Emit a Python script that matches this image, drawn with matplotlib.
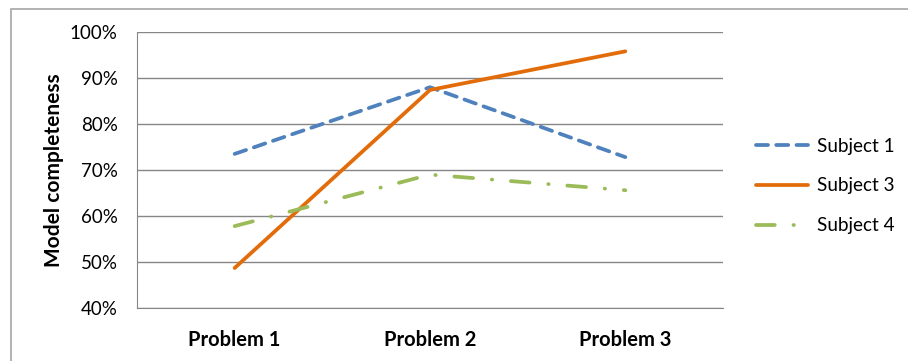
import matplotlib
matplotlib.use("Agg")
import matplotlib.pyplot as plt
from matplotlib.patches import Rectangle
from matplotlib.ticker import FuncFormatter, MultipleLocator

plt.rcParams["font.family"] = ["Lato", "DejaVu Sans"]
plt.rcParams["font.size"] = 11

# data
problems = ["Problem 1", "Problem 2", "Problem 3"]
subject1 = [0.735, 0.880, 0.728]
subject3 = [0.487, 0.874, 0.958]
subject4 = [0.578, 0.690, 0.656]

fig = plt.figure(figsize=(9.08, 3.61), dpi=100)

# outer chart border (Excel style)
fig.patches.append(Rectangle((11/908, -0.1), 1.2, 0.975 + 0.1, transform=fig.transFigure,
                             fill=False, edgecolor="#a6a6a6", linewidth=1.2))

ax = fig.add_axes([137/908, 53/361, 586/908, 276/361])
x = range(len(problems))

lw = 2.7
ax.plot(x, subject1, color="#4f81bd", lw=lw, linestyle=(0, (3.2, 2.2)),
        dash_capstyle="round", label="Subject 1")
ax.plot(x, subject3, color="#e36c0a", lw=lw, solid_capstyle="round", label="Subject 3")
ax.plot(x, subject4, color="#9bbb59", lw=lw, linestyle=(0, (5, 5, 0.1, 5)),
        dash_capstyle="round", label="Subject 4")

ax.set_xlim(-0.5, 2.5)
ax.set_ylim(0.4, 1.0)
ax.yaxis.set_major_locator(MultipleLocator(0.1))
ax.yaxis.set_major_formatter(FuncFormatter(lambda v, p: "%d%%" % round(v*100)))
ax.grid(axis="y", color="#868686", linewidth=1.0)
ax.set_axisbelow(True)
ax.set_xticks(list(x))
ax.set_xticklabels(problems, fontweight="bold")
ax.tick_params(axis="y", length=0, pad=14, labelsize=13.5)
ax.tick_params(axis="x", length=0, pad=16, labelsize=14.5)
for s in ["top", "right"]:
    ax.spines[s].set_visible(False)
ax.spines["left"].set_color("#868686")
ax.spines["bottom"].set_color("#868686")
ax.set_ylabel("Model completeness", fontweight="bold", fontsize=15, labelpad=4)

ax.legend(loc="center left", bbox_to_anchor=(756/908, 1 - 186/361),
          bbox_transform=fig.transFigure, frameon=False, borderpad=0,
          borderaxespad=0, handlelength=2.75, handletextpad=0.5,
          labelspacing=1.2, fontsize=13.6)

fig.savefig("out.png", dpi=100)
